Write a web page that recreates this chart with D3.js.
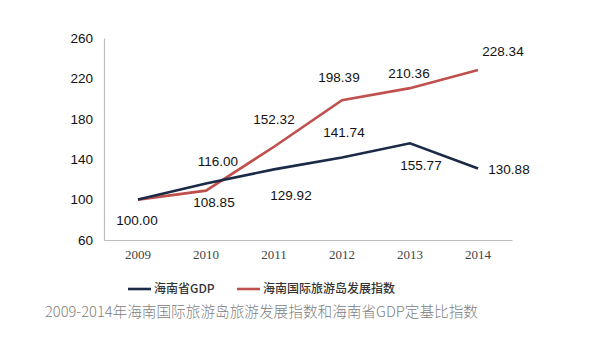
<!DOCTYPE html>
<html>
<head>
<meta charset="utf-8">
<script src="https://cdn.jsdelivr.net/npm/d3@7"></script>
<style>
  html, body { margin: 0; padding: 0; background: #ffffff; }
  svg { display: block; }
</style>
</head>
<body>
<svg id="chart" width="602" height="338"></svg>
<script>
// Years on the category axis
const years = ["2009", "2010", "2011", "2012", "2013", "2014"];
// Hainan provincial GDP, fixed-base index (2009 = 100)
const gdpValues = [100.00, 116.00, 129.92, 141.74, 155.77, 130.88];
// Hainan international tourism island development index (2009 = 100)
const tourismValues = [100.00, 108.85, 152.32, 198.39, 210.36, 228.34];
// Y-axis ticks
const yTicks = [60, 100, 140, 180, 220, 260];
// Series names
const seriesNames = ["海南省GDP", "海南国际旅游岛发展指数"];
const titleText = "2009-2014年海南国际旅游岛旅游发展指数和海南省GDP定基比指数";

// Where each value label sits relative to its point [dx, dy]
const gdpLabelOffsets = [null, [12, -22], [17, 26], [2, -25], [11, 22], [31, 1]];
const tourismLabelOffsets = [[-1, 21], [8, 12], [0, -27], [-3, -23], [-1, -15], [25, -19]];

const svg = d3.select("#chart");
const navy = "#1b2a47";
const red = "#c0504d";

const x = d3.scaleBand().domain(years).range([104, 512]);
const y = d3.scaleLinear().domain([60, 260]).range([240, 38]);
const cx = d => x(d) + x.bandwidth() / 2;

// Axes
const yAxis = d3.axisLeft(y).tickValues(yTicks).tickSize(0).tickPadding(11);
const gy = svg.append("g").attr("transform", "translate(104,0)").call(yAxis);
gy.select(".domain").attr("stroke", "#bfbfbf").attr("stroke-width", 1.2);
gy.selectAll("text")
  .attr("font-family", "Liberation Sans, Arial, sans-serif")
  .attr("font-size", 13.5).attr("fill", "#111");

const xAxis = d3.axisBottom(x).tickSize(0).tickPadding(10);
const gx = svg.append("g").attr("transform", "translate(0,240)").call(xAxis);
gx.select(".domain").attr("stroke", "#bfbfbf").attr("stroke-width", 1.2);
gx.selectAll("text")
  .attr("font-family", "Liberation Serif, Times New Roman, serif")
  .attr("font-size", 13).attr("fill", "#444");

// Lines
const line = d3.line().x((d, i) => cx(years[i])).y(d => y(d));
svg.append("path").datum(tourismValues)
  .attr("d", line).attr("fill", "none")
  .attr("stroke", red).attr("stroke-width", 2.6).attr("stroke-linejoin", "miter");
svg.append("path").datum(gdpValues)
  .attr("d", line).attr("fill", "none")
  .attr("stroke", navy).attr("stroke-width", 2.6).attr("stroke-linejoin", "miter");

// Value labels
function drawLabels(values, offsets) {
  values.forEach((v, i) => {
    const o = offsets[i];
    if (!o) return;
    svg.append("text")
      .attr("x", cx(years[i]) + o[0])
      .attr("y", y(v) + o[1])
      .attr("dy", "0.35em")
      .attr("text-anchor", "middle")
      .attr("font-family", "Liberation Sans, Arial, sans-serif")
      .attr("font-size", 13.5).attr("fill", "#111")
      .text(v.toFixed(2));
  });
}
drawLabels(gdpValues, gdpLabelOffsets);
drawLabels(tourismValues, tourismLabelOffsets);

// Legend
const legend = svg.append("g").attr("transform", "translate(0,289)");
[[128, navy, seriesNames[0]], [237, red, seriesNames[1]]].forEach(([lx, c, name]) => {
  legend.append("line").attr("x1", lx).attr("x2", lx + 23).attr("y1", 0).attr("y2", 0)
    .attr("stroke", c).attr("stroke-width", 2.6);
  legend.append("text").attr("x", lx + 26).attr("y", 0).attr("dy", "0.35em")
    .attr("font-family", "Noto Sans CJK SC, sans-serif")
    .attr("font-size", 12).attr("font-weight", 500).attr("fill", "#333")
    .text(name);
});

// Title
svg.append("text")
  .attr("x", 45).attr("y", 312).attr("dy", "0.35em")
  .attr("textLength", 433).attr("lengthAdjust", "spacingAndGlyphs")
  .attr("font-family", "Noto Sans CJK SC, sans-serif")
  .attr("font-size", 15).attr("font-weight", 300).attr("fill", "#808080")
  .text(titleText);
</script>
</body>
</html>
